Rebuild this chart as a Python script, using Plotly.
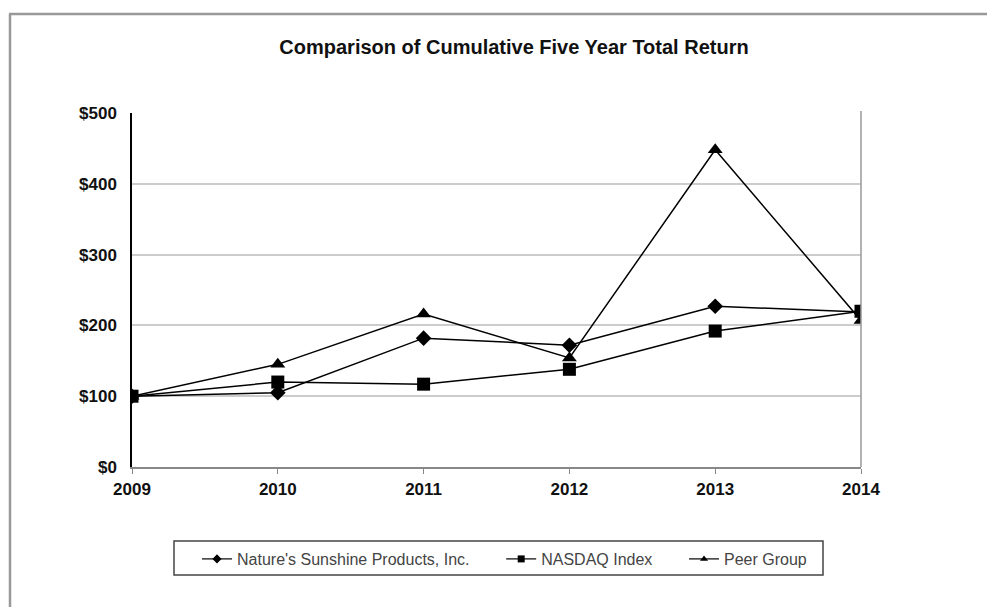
import plotly.graph_objects as go

years = ["2009", "2010", "2011", "2012", "2013", "2014"]
natures_sunshine = [100, 105, 182, 172, 227, 219]
nasdaq = [100, 120, 117, 138, 192, 220]
peer_group = [100, 145, 216, 154, 448, 207]
y_ticks = [0, 100, 200, 300, 400, 500]
y_tick_labels = ["$0", "$100", "$200", "$300", "$400", "$500"]
series_names = ["Nature's Sunshine Products, Inc.", "NASDAQ Index", "Peer Group"]

x_idx = list(range(len(years)))

# figure-pixel geometry (page has an 8px body offset)
L, R, T, B = 124, 142, 105, 148
W, H = 995, 607
PW, PH = W - L - R, H - T - B

fig = go.Figure()
styles = [("diamond", 12, 7), ("square", 13, 7), ("triangle-up", 13, 7)]
for name, vals, (sym, sz, lsz) in zip(series_names, [natures_sunshine, nasdaq, peer_group], styles):
    fig.add_trace(go.Scatter(
        x=x_idx, y=vals, name=name, mode="lines+markers", showlegend=False,
        line=dict(color="black", width=1.5),
        marker=dict(symbol=sym, size=sz, color="black"),
    ))
pads = ["\u00a0" * 6, "\u00a0" * 6, ""]
for name, (sym, sz, lsz), pad in zip(series_names, styles, pads):
    fig.add_trace(go.Scatter(
        x=[None], y=[None], name=name + pad, mode="lines+markers",
        line=dict(color="black", width=1.2),
        marker=dict(symbol=sym, size=lsz, color="black"),
    ))

def px_x(page_x):
    return (page_x - 8 - L) / PW

def px_y(page_y):
    return (H - B - (page_y - 8)) / PH

fig.update_layout(
    width=W, height=H,
    margin=dict(l=L, r=R, t=T, b=B),
    paper_bgcolor="white", plot_bgcolor="white",
    font=dict(family="Arial, Liberation Sans, sans-serif", color="#111"),
    title=dict(text="<b>Comparison of Cumulative Five Year Total Return</b>",
               x=(514 - 8) / W, xanchor="center", y=1 - (47 - 8) / H, yanchor="middle",
               font=dict(size=20, color="#111")),
    showlegend=True,
    legend=dict(orientation="h", x=px_x(197), xanchor="left", y=px_y(542), yanchor="top",
                borderwidth=0, bgcolor="rgba(0,0,0,0)",
                font=dict(size=16, color="#444")),
    shapes=[
        dict(type="line", xref="paper", yref="paper", x0=1, x1=1, y0=0, y1=px_y(111),
             line=dict(color="#999", width=1.5)),
        dict(type="line", xref="paper", yref="paper",
             x0=px_x(9), x1=px_x(1010), y0=px_y(14), y1=px_y(14),
             line=dict(color="#999", width=2.5)),
        dict(type="line", xref="paper", yref="paper",
             x0=px_x(10), x1=px_x(10), y0=px_y(14), y1=px_y(620),
             line=dict(color="#999", width=2.5)),
        dict(type="rect", xref="paper", yref="paper",
             x0=px_x(174), x1=px_x(823), y0=px_y(541), y1=px_y(575),
             line=dict(color="#444", width=1.5), fillcolor="rgba(0,0,0,0)"),
    ],
)
fig.update_xaxes(
    range=[0, 5], tickmode="array", tickvals=x_idx,
    ticktext=["<b>%s</b>" % y for y in years],
    showgrid=False, zeroline=False, showline=True, linecolor="#888", linewidth=2,
    ticks="outside", ticklen=5, tickcolor="#888", ticklabelstandoff=1,
    tickfont=dict(size=17, color="#111"),
)
fig.update_yaxes(
    range=[0, 500], tickmode="array", tickvals=y_ticks,
    ticktext=["<b>%s</b>" % t for t in y_tick_labels],
    showgrid=True, gridcolor="#cccccc", gridwidth=1.5, zeroline=False,
    showline=True, linecolor="black", linewidth=1.5,
    ticks="", ticklabelstandoff=10, tickfont=dict(size=17, color="#111"),
)

fig.write_html("out.html")
